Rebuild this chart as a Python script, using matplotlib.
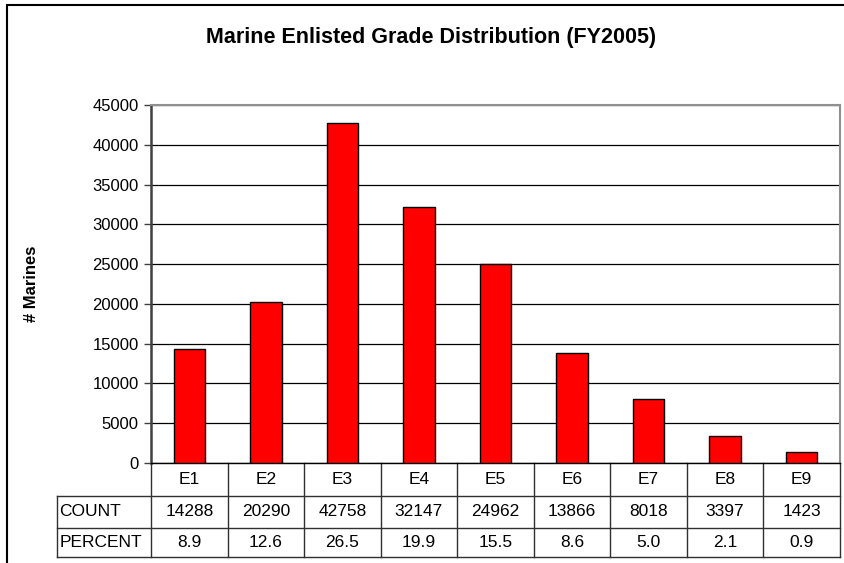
import matplotlib
matplotlib.use('Agg')
import matplotlib.pyplot as plt
from matplotlib.patches import Rectangle
import matplotlib.transforms as mtransforms

plt.rcParams['font.family'] = ['Liberation Sans', 'DejaVu Sans']

# data
grades = ['E1', 'E2', 'E3', 'E4', 'E5', 'E6', 'E7', 'E8', 'E9']
counts = [14288, 20290, 42758, 32147, 24962, 13866, 8018, 3397, 1423]
percents = ['8.9', '12.6', '26.5', '19.9', '15.5', '8.6', '5.0', '2.1', '0.9']
row_labels = ['COUNT', 'PERCENT']
yticks = list(range(0, 45001, 5000))

W, H = 844, 563
fig = plt.figure(figsize=(W / 100, H / 100), dpi=100)

# plot area in pixels: left 151, right 840, top 105, bottom 463
ax = fig.add_axes([151 / W, 1 - 463 / H, (840 - 151) / W, (463 - 105) / H])

x = list(range(len(grades)))
ax.bar(x, counts, width=0.41, color='#FF0000', edgecolor='black', linewidth=1, zorder=3)
ax.set_xlim(-0.5, len(grades) - 0.5)
ax.set_ylim(0, 45000)
ax.set_yticks(yticks)
ax.set_yticklabels([str(v) for v in yticks], fontsize=12)
ax.tick_params(axis='y', length=5, width=1, pad=4, color='#404040')
ax.set_xticks([])
ax.grid(axis='y', color='black', linewidth=0.9, zorder=1)

ax.spines['top'].set_color('#909090')
ax.spines['right'].set_color('#909090')
ax.spines['top'].set_linewidth(1.5)
ax.spines['right'].set_linewidth(1.5)
ax.spines['left'].set_color('#404040')
ax.spines['left'].set_linewidth(1.8)
ax.spines['bottom'].set_color('black')
ax.spines['bottom'].set_linewidth(1)

ax.set_ylabel('# Marines', fontsize=12, fontweight='bold', labelpad=0)
ax.yaxis.set_label_coords((39 - 151) / (840 - 151), 0.5)

# data table underneath, x in data units, y in axes fraction
trans = mtransforms.blended_transform_factory(ax.transData, ax.transAxes)
ph = 463 - 105
row_y = [0, -(496 - 463) / ph, -(528 - 463) / ph, -(557 - 463) / ph]
left_x = -0.5 - (151 - 57) / ((840 - 151) / len(grades))
right_x = len(grades) - 0.5
lc = '#303030'

def hline(y, x0, x1):
    ax.plot([x0, x1], [y, y], color=lc, lw=1, transform=trans, clip_on=False)

def vline(xv, y0, y1):
    ax.plot([xv, xv], [y0, y1], color=lc, lw=1, transform=trans, clip_on=False)

hline(row_y[1], left_x, right_x)
hline(row_y[2], left_x, right_x)
hline(row_y[3], left_x, right_x)
for i in range(len(grades) + 1):
    vline(i - 0.5, row_y[0], row_y[3])
vline(left_x, row_y[1], row_y[3])

fs = 12.5
for i, g in enumerate(grades):
    ax.text(i, (row_y[0] + row_y[1]) / 2, g, transform=trans, ha='center', va='center', fontsize=fs)
    ax.text(i, (row_y[1] + row_y[2]) / 2, str(counts[i]), transform=trans, ha='center', va='center', fontsize=fs)
    ax.text(i, (row_y[2] + row_y[3]) / 2, percents[i], transform=trans, ha='center', va='center', fontsize=fs)
for j, lab in enumerate(row_labels):
    ax.text(left_x + 0.03, (row_y[j + 1] + row_y[j + 2]) / 2, lab, transform=trans,
            ha='left', va='center', fontsize=fs)

fig.text(431 / W, 1 - 38 / H, 'Marine Enlisted Grade Distribution (FY2005)',
         ha='center', va='center', fontsize=15.5, fontweight='bold')

# outer chart frame (right and bottom edges fall outside the picture)
fig.patches.append(Rectangle((7 / W, -0.1), 1.2, 1 - 5 / H + 0.1, transform=fig.transFigure,
                             fill=False, edgecolor='black', linewidth=1.5))

fig.savefig('out.png', dpi=100)
